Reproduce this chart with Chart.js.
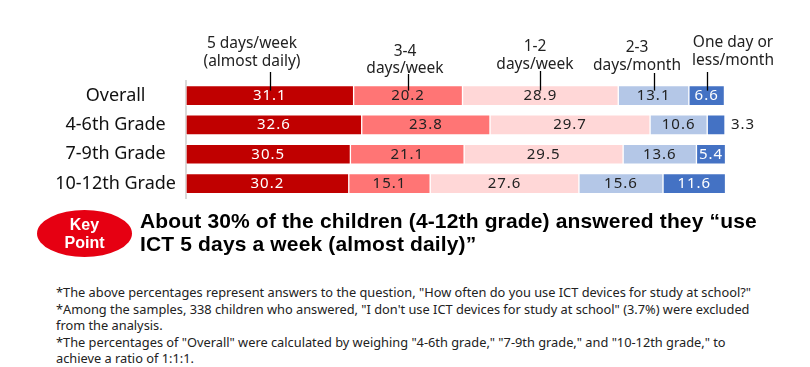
<!DOCTYPE html>
<html>
<head>
<meta charset="utf-8">
<script src="https://cdn.jsdelivr.net/npm/chart.js@4/dist/chart.umd.min.js"></script>
<style>
  body { margin: 0; background: #fff; }
  #wrap { position: relative; width: 810px; height: 367px; overflow: hidden; font-family: "Noto Sans", sans-serif; }
  #mainChart { position: absolute; left: 0; top: 0; }
  #badge {
    position: absolute; left: 37px; top: 210px; width: 95px; height: 47px;
    border-radius: 50%; background: #e60012; color: #fff;
    font-family: "Liberation Sans Narrow", "Arial Narrow", "Liberation Sans", sans-serif;
    font-weight: bold; font-size: 16px; line-height: 18px; text-align: center;
    display: flex; align-items: center; justify-content: center;
  }
  #keyText {
    position: absolute; left: 140px; top: 209px;
    font-family: "Liberation Sans", Arial, sans-serif;
    font-weight: bold; font-size: 21px; letter-spacing: 0.15px; line-height: 23px; color: #000; white-space: nowrap;
  }
  #notes {
    position: absolute; left: 56px; top: 284px;
    font-size: 12.8px; line-height: 16.5px; color: #222; white-space: nowrap;
  }
</style>
</head>
<body>
<div id="wrap">
  <canvas id="mainChart" width="810" height="219"></canvas>
  <div id="badge">Key<br>Point</div>
  <div id="keyText">About 30% of the children (4-12th grade) answered they “use<br>ICT 5 days a week (almost daily)”</div>
  <div id="notes">
    *The above percentages represent answers to the question, "How often do you use ICT devices for study at school?"<br>
    *Among the samples, 338 children who answered, "I don't use ICT devices for study at school" (3.7%) were excluded<br>
    from the analysis.<br>
    *The percentages of "Overall" were calculated by weighing "4-6th grade," "7-9th grade," and "10-12th grade," to<br>
    achieve a ratio of 1:1:1.
  </div>
</div>
<script>
const categories = ['Overall', '4-6th Grade', '7-9th Grade', '10-12th Grade'];
const seriesNames = ['5 days/week\n(almost daily)', '3-4\ndays/week', '1-2\ndays/week', '2-3\ndays/month', 'One day or\nless/month'];
const fiveDays   = [31.1, 32.6, 30.5, 30.2];
const threeFour  = [20.2, 23.8, 21.1, 15.1];
const oneTwo     = [28.9, 29.7, 29.5, 27.6];
const twoThreeMo = [13.1, 10.6, 13.6, 15.6];
const oneOrLess  = [6.6, 3.3, 5.4, 11.6];

const colors = ['#c00000', '#ff7575', '#ffd7d7', '#b4c7e7', '#4472c4'];
const labelColors = ['#fff', '#222', '#222', '#222', '#fff'];

// header text positions (center x, y per line)
const headerPos = [
  { x: 252, y: [44, 62] },
  { x: 405, y: [52, 69] },
  { x: 535, y: [47, 65] },
  { x: 637, y: [48, 66] },
  { x: 733, y: [43, 61] }
];
const lineTops = [72, 74, 71, 73, 72];

const valueLabels = {
  id: 'valueLabels',
  afterDatasetsDraw(chart) {
    const ctx = chart.ctx;
    ctx.save();
    ctx.font = '15px "Noto Sans", sans-serif';
    ctx.letterSpacing = '1px';
    ctx.textBaseline = 'middle';
    chart.data.datasets.forEach((ds, i) => {
      chart.getDatasetMeta(i).data.forEach((bar, j) => {
        const w = bar.x - bar.base;
        const txt = ds.data[j].toFixed(1);
        if (w < 26) {
          ctx.fillStyle = '#222';
          ctx.textAlign = 'left';
          ctx.fillText(txt, bar.x + 6, bar.y);
        } else {
          ctx.fillStyle = labelColors[i];
          ctx.textAlign = 'center';
          ctx.fillText(txt, (bar.x + bar.base) / 2, bar.y);
        }
      });
    });
    // header labels + leader lines into the Overall bar
    ctx.letterSpacing = '0px';
    ctx.font = '15.5px "Noto Sans", sans-serif';
    ctx.fillStyle = '#222';
    ctx.textAlign = 'center';
    chart.data.datasets.forEach((ds, i) => {
      const parts = ds.label.split('\n');
      parts.forEach((p, k) => ctx.fillText(p, headerPos[i].x, headerPos[i].y[k]));
      const bar = chart.getDatasetMeta(i).data[0];
      const cx = Math.round((bar.x + bar.base) / 2) + 0.5;
      ctx.strokeStyle = '#000';
      ctx.lineWidth = 1.3;
      ctx.beginPath();
      ctx.moveTo(cx, lineTops[i]);
      ctx.lineTo(cx, bar.y - bar.height / 2 + 5);
      ctx.stroke();
    });
    ctx.restore();
  }
};

const seriesData = [fiveDays, threeFour, oneTwo, twoThreeMo, oneOrLess];

new Chart(document.getElementById('mainChart'), {
  type: 'bar',
  data: {
    labels: categories,
    datasets: seriesData.map((d, i) => ({
      label: seriesNames[i],
      data: d,
      backgroundColor: colors[i],
      borderColor: 'rgba(255,255,255,0.45)',
      borderWidth: 1,
      borderSkipped: false,
      barThickness: 20
    }))
  },
  options: {
    indexAxis: 'y',
    responsive: false,
    animation: false,
    layout: { padding: { top: 81, bottom: 0, left: 0, right: 85 } },
    plugins: { legend: { display: false }, tooltip: { enabled: false } },
    scales: {
      x: { stacked: true, min: 0, max: 100, display: false },
      y: {
        stacked: true,
        grid: { display: false, drawTicks: false },
        border: { display: true, color: '#d9d9d9', width: 2 },
        ticks: {
          crossAlign: 'center',
          padding: 10,
          color: '#111',
          font: { family: '"Noto Sans", sans-serif', size: 18 }
        },
        afterFit(scale) { scale.width = 186; }
      }
    }
  },
  plugins: [valueLabels]
});
</script>
</body>
</html>
